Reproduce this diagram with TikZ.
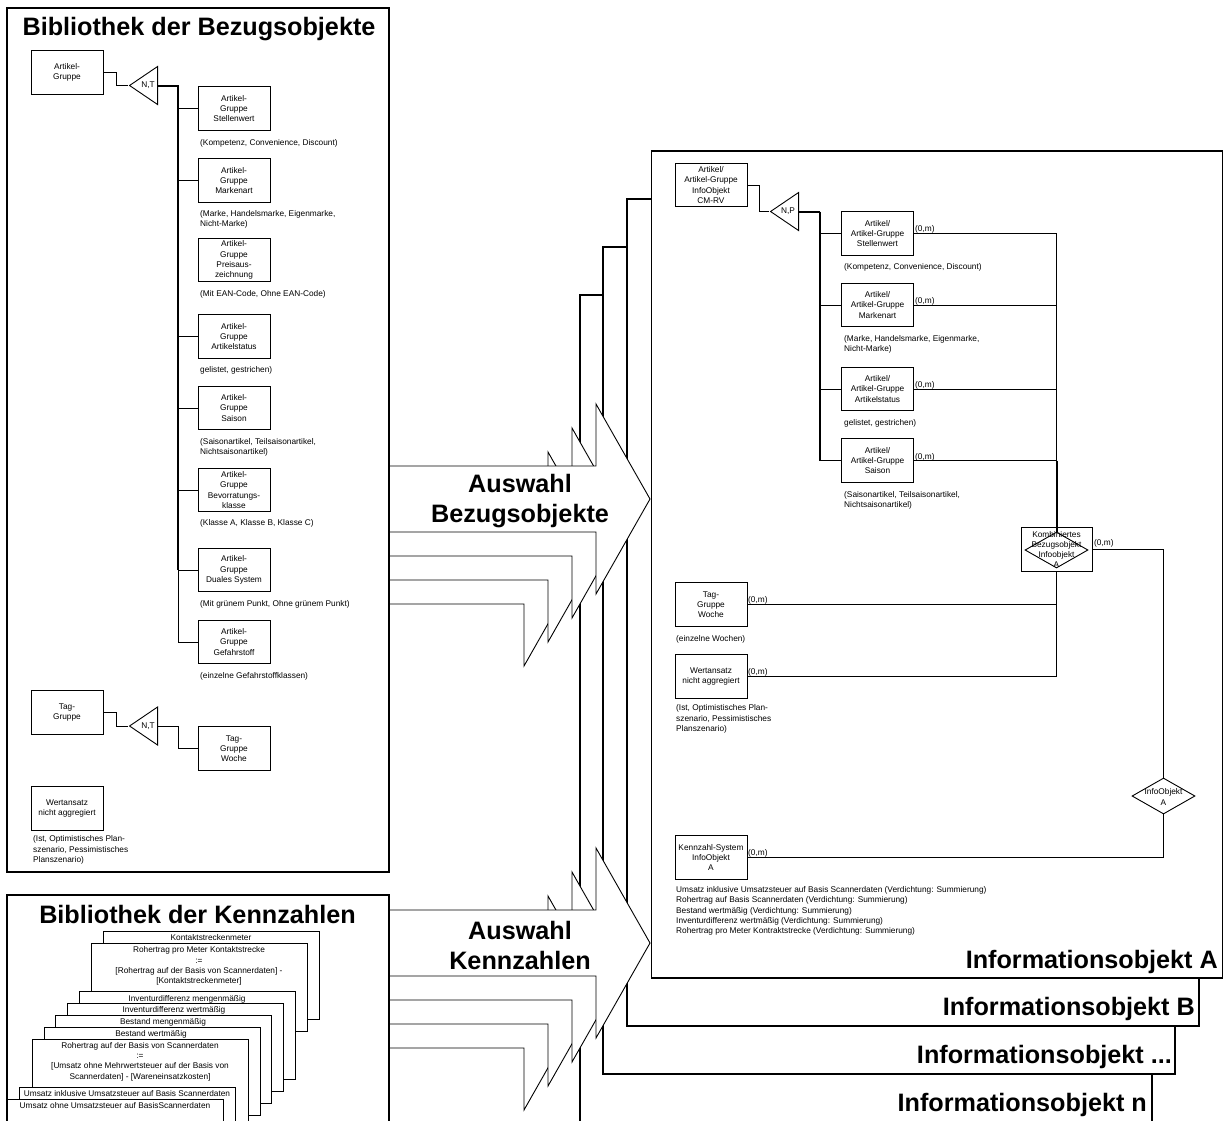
\documentclass[tikz,border=0pt]{standalone}
\usepackage{fontspec}
\setmainfont{Liberation Sans}
\usetikzlibrary{shapes.geometric}
\tikzset{
  smalltxt/.style={font=\fontsize{8.3}{10.3}\selectfont},
  bigtxt/.style={font=\bfseries\fontsize{25.2}{30}\selectfont,align=center,inner sep=0pt},
  frame/.style={draw=black,fill=white,line width=1.8pt,rectangle,inner sep=0pt},
  bx/.style={draw=black,fill=white,line width=1pt,rectangle,minimum width=72pt,minimum height=43.5pt,inner sep=0pt,align=center,smalltxt},
  note/.style={smalltxt,align=left,anchor=west,inner sep=0pt},
  mult/.style={smalltxt,anchor=west,inner sep=0pt},
  lbl/.style={smalltxt,align=center,inner sep=0pt},
  cardbox/.style={draw=black,fill=white,line width=1pt,rectangle,minimum width=216pt,minimum height=88pt,inner sep=0pt,anchor=north west},
  cardtxt/.style={smalltxt,align=center,inner sep=0pt,anchor=north},
  tri/.style={draw=black,fill=white,line width=.9pt,isosceles triangle,isosceles triangle stretches,shape border rotate=180,minimum width=38pt,minimum height=28pt,inner sep=0pt,anchor=lower side},
  dia/.style={draw=black,diamond,line width=.9pt,minimum width=63pt,minimum height=36pt,inner sep=0pt},
  conn/.style={draw=black,line width=1pt},
  trunk/.style={draw=black,line width=2pt},
  trunkb/.style={draw=black,line width=1.5pt},
  blockarrow/.style={draw=black,fill=white,line width=.9pt,line join=miter},
}
\begin{document}
\begin{tikzpicture}[x=1pt,y=-1pt]
\useasboundingbox (0,0) rectangle (1223,1120);
\clip (0,0) rectangle (1223,1120);
\fill[white] (0,0) rectangle (1223,1120);

% stacked information objects
\node[frame,minimum width=572pt,minimum height=840pt] (ion) at (866,715) {};
\node[frame,minimum width=572pt,minimum height=827pt] (ioc) at (889,660.5) {};
\node[frame,minimum width=572pt,minimum height=827pt] (iob) at (913,612.5) {};
\node[frame,minimum width=571pt,minimum height=827pt] (ioa) at (937,564.5) {};
\node[bigtxt,anchor=east] (lbln) at (1147,1105) {Informationsobjekt n};
\node[bigtxt,anchor=east] (lblc) at (1172,1057) {Informationsobjekt ...};
\node[bigtxt,anchor=east] (lblb) at (1195,1009) {Informationsobjekt B};
\node[bigtxt,anchor=east] (lbla) at (1218,962) {Informationsobjekt A};

% block arrows
\foreach \oy in {0,444}{
  \foreach \d in {3,2,1,0}{
    \begin{scope}[shift={(-24*\d,24*\d+\oy)}]
      \draw[blockarrow] (389+24*\d,466) -- (596,466) -- (596,404) -- (650,499) -- (596,594) -- (596,532) -- (389+24*\d,532);
    \end{scope}
  }
}
\node[bigtxt] (aw1) at (520,501) {Auswahl\\Bezugsobjekte};
\node[bigtxt] (aw2) at (520,945) {Auswahl\\Kennzahlen};

% library of reference objects
\node[frame,minimum width=382pt,minimum height=864pt] (lib1) at (198,440) {};
\node[bigtxt] (t1) at (199,29) {Bibliothek der Bezugsobjekte};

\node[bx] (ag) at (67,72.5) {Artikel-\\Gruppe};
\node[tri] (tr1) at (158,85.5) {};
\node[lbl] (tr1t) at (148,85.5) {N,T};
\node[bx] (a1) at (234,108.5) {Artikel-\\Gruppe\\Stellenwert};
\node[bx] (a2) at (234,180.5) {Artikel-\\Gruppe\\Markenart};
\node[bx] (a3) at (234,260) {Artikel-\\Gruppe\\Preisaus-\\zeichnung};
\node[bx] (a4) at (234,336.5) {Artikel-\\Gruppe\\Artikelstatus};
\node[bx] (a5) at (234,408) {Artikel-\\Gruppe\\Saison};
\node[bx] (a6) at (234,490) {Artikel-\\Gruppe\\Bevorratungs-\\klasse};
\node[bx] (a7) at (234,570) {Artikel-\\Gruppe\\Duales System};
\node[bx] (a8) at (234,642) {Artikel-\\Gruppe\\Gefahrstoff};
\node[note] (n1) at (200,143) {(Kompetenz, Convenience, Discount)};
\node[note] (n2) at (200,219.5) {(Marke, Handelsmarke, Eigenmarke,\\Nicht-Marke)};
\node[note] (n3) at (200,294) {(Mit EAN-Code, Ohne EAN-Code)};
\node[note] (n4) at (200,370) {gelistet, gestrichen)};
\node[note] (n5) at (200,447) {(Saisonartikel, Teilsaisonartikel,\\Nichtsaisonartikel)};
\node[note] (n6) at (200,523) {(Klasse A, Klasse B, Klasse C)};
\node[note] (n7) at (200,604) {(Mit grünem Punkt, Ohne grünem Punkt)};
\node[note] (n8) at (200,676) {(einzelne Gefahrstoffklassen)};
\coordinate (bus1) at (178,85.5);
\draw[conn] (ag.east) -- ++(13,0) |- (tr1.apex);
\draw[trunk] (tr1.lower side) -- (bus1) -- (bus1|-a7.west);
\draw[conn] (bus1|-a7.west) -- (bus1|-a8.west);
\foreach \b in {a1,a2,a4,a5,a6,a7,a8}{\draw[conn] (bus1|-\b.west) -- (\b.west);}

\node[bx] (tg) at (67,712.5) {Tag-\\Gruppe};
\node[tri] (tr2) at (158,726) {};
\node[lbl] (tr2t) at (148,726) {N,T};
\node[bx] (tw) at (234,748.5) {Tag-\\Gruppe\\Woche};
\draw[conn] (tg.east) -- ++(13,0) |- (tr2.apex);
\draw[conn] (tr2.lower side) -- ++(20,0) |- (tw.west);
\node[bx] (wa) at (67,808.5) {Wertansatz\\nicht aggregiert};
\node[note] (n9) at (33,850) {(Ist, Optimistisches Plan-\\szenario, Pessimistisches\\Planszenario)};

% library of key figures
\node[frame,minimum width=382pt,minimum height=240pt] (lib2) at (198,1015) {};
\node[bigtxt] (t2) at (197.5,914) {Bibliothek der Kennzahlen};
\node[cardbox] (c1) at (103,931) {};
\node[cardtxt] (c1t) at (211,934) {Kontaktstreckenmeter};
\node[cardbox] (c2) at (91,943) {};
\node[cardtxt] (c2t) at (199,946.5) {Rohertrag pro Meter Kontaktstrecke\\:=\\{[}Rohertrag auf der Basis von Scannerdaten{]} -\\{[}Kontaktstreckenmeter{]}};
\node[cardbox] (c3) at (79,991) {};
\node[cardtxt] (c3t) at (187,995) {Inventurdifferenz mengenmäßig};
\node[cardbox] (c4) at (67,1003) {};
\node[cardtxt] (c4t) at (174,1006) {Inventurdifferenz wertmäßig};
\node[cardbox] (c5) at (55,1015) {};
\node[cardtxt] (c5t) at (163,1018) {Bestand mengenmäßig};
\node[cardbox] (c6) at (44,1027) {};
\node[cardtxt] (c6t) at (151,1030) {Bestand wertmäßig};
\node[cardbox] (c7) at (32,1039) {};
\node[cardtxt] (c7t) at (140,1042) {Rohertrag auf der Basis von Scannerdaten\\:=\\{[}Umsatz ohne Mehrwertsteuer auf der Basis von\\Scannerdaten{]} - {[}Wareneinsatzkosten{]}};
\node[cardbox] (c8) at (19,1087) {};
\node[cardtxt] (c8t) at (127,1090) {Umsatz inklusive Umsatzsteuer auf Basis Scannerdaten};
\node[cardbox] (c9) at (7,1099) {};
\node[cardtxt] (c9t) at (115,1102) {Umsatz ohne Umsatzsteuer auf BasisScannerdaten};

% information object A content
\node[bx] (cm) at (711,185) {Artikel/\\Artikel-Gruppe\\InfoObjekt\\CM-RV};
\node[tri] (tr3) at (799,211.5) {};
\node[lbl] (tr3t) at (788,211.5) {N,P};
\node[bx] (r1) at (877.5,233.5) {Artikel/\\Artikel-Gruppe\\Stellenwert};
\node[bx] (r2) at (877.5,305) {Artikel/\\Artikel-Gruppe\\Markenart};
\node[bx] (r3) at (877.5,389) {Artikel/\\Artikel-Gruppe\\Artikelstatus};
\node[bx] (r4) at (877.5,460.5) {Artikel/\\Artikel-Gruppe\\Saison};
\node[note] (m1) at (844,267) {(Kompetenz, Convenience, Discount)};
\node[note] (m2) at (844,344) {(Marke, Handelsmarke, Eigenmarke,\\Nicht-Marke)};
\node[note] (m3) at (844,423) {gelistet, gestrichen)};
\node[note] (m4) at (844,500) {(Saisonartikel, Teilsaisonartikel,\\Nichtsaisonartikel)};
\node[bx] (tg2) at (711,604.5) {Tag-\\Gruppe\\Woche};
\node[note] (m5) at (676,639) {(einzelne Wochen)};
\node[bx] (wa2) at (711,676.5) {Wertansatz\\nicht aggregiert};
\node[note] (m6) at (676,719) {(Ist, Optimistisches Plan-\\szenario, Pessimistisches\\Planszenario)};
\node[bx] (kz) at (711,857.5) {Kennzahl-System\\InfoObjekt\\A};
\node[note] (m7) at (676,911) {Umsatz inklusive Umsatzsteuer auf Basis Scannerdaten (Verdichtung: Summierung)\\Rohertrag auf Basis Scannerdaten (Verdichtung: Summierung)\\Bestand wertmäßig (Verdichtung: Summierung)\\Inventurdifferenz wertmäßig (Verdichtung: Summierung)\\Rohertrag pro Meter Kontraktstrecke (Verdichtung: Summierung)};

\node[bx,minimum width=71pt] (kb) at (1056.5,549.5) {Kombiniertes\\Bezugsobjekt\\Infoobjekt\\A};
\node[dia] (kd) at (1056.5,550) {};
\node[dia] (id) at (1163.5,796) {};
\node[lbl] (idt) at (1163.5,797) {InfoObjekt\\A};

\coordinate (bus3) at (820,211.5);
\draw[conn] (cm.east) -- ++(12,0) |- (tr3.apex);
\draw[trunk] (tr3.lower side) -- (bus3);
\draw[trunkb] (bus3) -- (bus3|-r4.west);
\foreach \b in {r1,r2,r3,r4}{
  \draw[conn] (bus3|-\b.west) -- (\b.west);
  \draw[conn] (\b.east) -- (\b.east-|kd.north);
}
\draw[trunk] (r4.east-|kd.north) -- (kd.north);
\draw[conn] (r1.east-|kd.north) -- (r4.east-|kd.north);
\draw[conn] (kb.south) -- (wa2.east-|kb.south);
\draw[conn] (tg2.east) -- (tg2.east-|kb.south);
\draw[conn] (wa2.east) -- (wa2.east-|kb.south);
\draw[conn] (kb.east) -| (id.north);
\draw[conn] (kz.east) -| (id.south);
\node[mult] (z1) at (915,229) {(0,m)};
\node[mult] (z2) at (915,301) {(0,m)};
\node[mult] (z3) at (915,385) {(0,m)};
\node[mult] (z4) at (915,457) {(0,m)};
\node[mult] (z5) at (748,600) {(0,m)};
\node[mult] (z6) at (748,672) {(0,m)};
\node[mult] (z7) at (748,853) {(0,m)};
\node[mult] (z8) at (1094,543) {(0,m)};
\end{tikzpicture}
\end{document}
